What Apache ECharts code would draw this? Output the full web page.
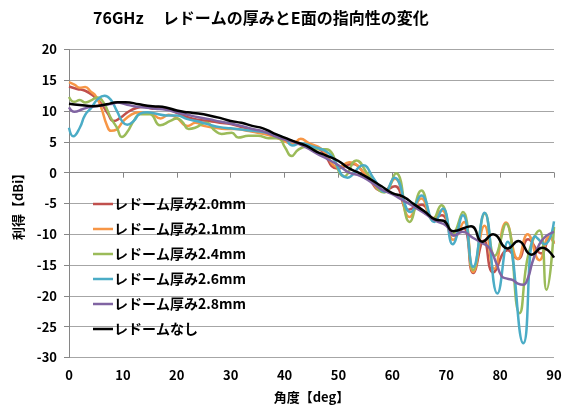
<!DOCTYPE html>
<html>
<head>
<meta charset="utf-8">
<script src="https://cdn.jsdelivr.net/npm/echarts@6/dist/echarts.min.js"></script>
<style>
html,body{margin:0;padding:0;background:#fff;}
#chart{width:573px;height:412px;}
</style>
</head>
<body>
<div id="chart"></div>
<script>
var titleText = '76GHz\u3000\u2009\u30EC\u30C9\u30FC\u30E0\u306E\u539A\u307F\u3068E\u9762\u306E\u6307\u5411\u6027\u306E\u5909\u5316';
var xName = '角度【deg】';
var yName = '利得【dBi】';
var seriesNames = ['レドーム厚み2.0mm','レドーム厚み2.1mm','レドーム厚み2.4mm','レドーム厚み2.6mm','レドーム厚み2.8mm','レドームなし'];
var seriesColors = ['#C0504D','#F79646','#9BBB59','#4BACC6','#8064A2','#000000'];
var xTicks = [0,10,20,30,40,50,60,70,80,90];
var yTicks = [-30,-25,-20,-15,-10,-5,0,5,10,15,20];

// [angle(deg), gain(dBi)]
var t20 = [[0,14.0],[1.5,13.6],[3,13.3],[4.5,12.5],[6,11.2],[7.2,9.6],[8.3,8.4],[9.5,8.9],[11,9.9],[12.5,10.5],[14,10.7],[15.5,10.4],[17,10.5],[18.5,10.3],[20,9.7],[22,9.0],[24,8.6],[26,8.4],[28,8.1],[30,7.9],[32,7.4],[34,7.0],[36,6.6],[38,6.0],[40,5.4],[42,5.0],[43.5,4.6],[45,4.2],[46.8,3.6],[49.8,0.7],[52.6,1.4],[55,-0.3],[58.3,-3.0],[60.5,-2.2],[63,-6.0],[65.5,-5.2],[67.6,-7.4],[69.2,-6.9],[71.4,-10.2],[73.2,-9.0],[75,-16.3],[77,-11.0],[78.7,-16.2],[81.4,-12.6],[83.3,-14.0],[85.2,-10.8],[87.6,-13.1],[89.3,-10.4],[90,-11.5]];
var t21 = [[0,14.7],[1,14.3],[2,13.8],[3,13.9],[4,13.2],[5,12.4],[6,10.5],[7,7.8],[7.8,6.8],[8.8,7.0],[10,8.3],[11.5,9.4],[13,9.8],[15,9.7],[17,8.8],[18.5,9.4],[20,8.9],[22,7.6],[23.5,8.1],[25,7.6],[27,7.3],[29,7.1],[31,7.1],[33,6.8],[35,6.5],[37,6.1],[39,5.5],[41.5,4.7],[43,5.5],[44.5,4.8],[46.8,3.9],[50.1,0.9],[52,1.7],[55,-0.2],[58.4,-3.0],[60.5,-1.0],[63.2,-7.2],[65.4,-4.2],[67.5,-7.4],[69.2,-6.1],[71.3,-10.9],[73.3,-8.0],[75,-16.1],[77.1,-8.6],[78.9,-15.6],[81.1,-8.1],[83.3,-14.0],[85.1,-10.0],[87.3,-14.2],[89.1,-10.4],[90,-11.5]];
var t24 = [[0,12.3],[1,11.5],[2,11.8],[3,11.4],[4,11.7],[5.2,12.2],[6.4,11.4],[7.7,9.0],[8.9,7.3],[9.8,5.8],[10.8,6.6],[12,8.4],[13.2,9.5],[15,9.5],[16.9,7.7],[18.8,8.4],[20,8.8],[21,8.3],[22.2,7.1],[23.4,7.3],[25.5,8.1],[27.1,6.8],[28.3,6.3],[30.2,6.5],[31.4,5.7],[33.3,6.0],[35.1,6.0],[37,5.6],[38.8,5.6],[40.1,4.1],[41.3,2.7],[42.5,3.7],[44,4.2],[45.5,3.8],[47.7,3.8],[51.1,-0.6],[53.3,2.0],[55.5,-0.3],[58.5,-3.2],[60.7,-0.1],[63.2,-8.0],[65.4,-2.9],[67.5,-7.7],[69.1,-5.3],[71.2,-9.9],[73.1,-6.4],[75,-15.8],[77.2,-6.6],[79,-13.5],[81.1,-8.3],[83.6,-22.8],[85.3,-13.0],[87.3,-9.4],[88.6,-19.0],[90,-8.8]];
var t26 = [[0,7.3],[0.8,5.9],[2,7.3],[3,9.4],[4.2,10.6],[5.3,11.9],[6.6,12.5],[7.7,11.9],[8.9,10.0],[10,8.2],[10.8,7.8],[12,8.4],[13.2,9.6],[14.5,9.8],[16,9.6],[18,9.3],[20,9.3],[22,8.7],[24,8.3],[26,7.8],[28,7.4],[30,7.2],[32,7.0],[34,6.8],[36,6.6],[38,6.2],[40,5.6],[41.5,4.4],[43,4.8],[45,4.3],[48.3,3.1],[51.7,-0.8],[54.6,1.2],[56.5,-0.9],[58.6,-3.1],[60.4,-0.8],[63.4,-6.4],[65.4,-3.7],[67.8,-8.0],[69.4,-5.8],[71.2,-11.6],[73.1,-6.9],[75,-15.3],[77.1,-6.5],[79.5,-19.6],[81.4,-11.2],[84.3,-27.7],[86.5,-10.3],[88.3,-11.6],[90,-7.9]];
var t28 = [[0,10.6],[1,9.9],[2.5,10.3],[4,10.7],[6,10.9],[8,11.2],[9,11.4],[10.5,11.1],[12,10.8],[14,10.6],[16,10.4],[18,10.2],[20,9.8],[22,9.4],[24,9.0],[26,8.7],[28,8.3],[30,8.0],[32,7.6],[34,7.1],[36,6.7],[38,6.0],[40,5.4],[42,4.9],[44,4.1],[46,3.1],[48,2.2],[50,1.2],[52,0.0],[54,-0.5],[56,-1.5],[58,-2.7],[60,-3.5],[62,-4.5],[64,-5.5],[66,-6.6],[68,-7.8],[70,-8.6],[71.5,-10.2],[73,-9.6],[75,-10.6],[76.8,-11.5],[78,-12.2],[79.3,-14.7],[80.3,-16.8],[81.3,-17.2],[82.3,-17.4],[83.3,-18.0],[84.3,-18.2],[85.2,-17.0],[86,-14.5],[87.3,-11.6],[88.5,-10.3],[90,-9.6]];
var tNone = [[0,11.2],[2,11.0],[4.5,10.8],[7,11.1],[9,11.45],[10.5,11.45],[13,11.1],[15.5,10.8],[18,10.6],[20,10.1],[22,9.8],[24,9.6],[26,9.3],[28,8.9],[30,8.4],[32,8.1],[34,7.6],[36,7.2],[38,6.4],[40,5.7],[42,5.0],[44,4.4],[46,3.4],[48,2.7],[50,1.9],[52,0.7],[54,-0.1],[56,-1.1],[58,-2.2],[60,-3.3],[62,-3.9],[64,-5.1],[66,-6.3],[68,-7.6],[69.5,-7.8],[71.3,-9.5],[74.6,-8.7],[76.7,-11.2],[78.7,-10.0],[81.4,-12.3],[83.4,-11.1],[85.8,-13.3],[87.8,-12.2],[90,-13.8]];
var allData = [t20, t21, t24, t26, t28, tNone];

var FONT = '"Noto Sans CJK JP", "Noto Sans", sans-serif';
var chart = echarts.init(document.getElementById('chart'), null, {renderer: 'canvas'});
var series = seriesNames.map(function (n, i) {
  return {
    name: n, type: 'line', data: allData[i], smooth: 0.5, symbol: 'none', showSymbol: false,
    lineStyle: {color: seriesColors[i], width: 2.5}, itemStyle: {color: seriesColors[i]},
    z: 2 + i, animation: false
  };
});
chart.setOption({
  animation: false,
  backgroundColor: '#ffffff',
  title: {
    text: titleText, left: 93, top: 10, padding: 0,
    textStyle: {fontFamily: FONT, fontSize: 16, fontWeight: 'bold', color: '#000'}
  },
  legend: {
    orient: 'vertical', left: 93, top: 197, itemWidth: 20, itemHeight: 2.5, itemGap: 11, padding: 0,
    icon: 'rect',
    data: seriesNames,
    textStyle: {fontFamily: FONT, fontSize: 14, fontWeight: 'bold', color: '#000', lineHeight: 14, padding: [0,0,0,-4]}
  },
  grid: {left: 69, right: 19, top: 49.5, bottom: 54.5, containLabel: false},
  xAxis: {
    type: 'value', min: 0, max: 90, interval: 10,
    name: xName, nameLocation: 'middle', nameGap: 33,
    nameTextStyle: {fontFamily: FONT, fontSize: 13, fontWeight: 'bold', color: '#000'},
    axisLine: {show: true, lineStyle: {color: '#868686', width: 1}},
    axisTick: {show: true, length: 5, lineStyle: {color: '#868686'}},
    axisLabel: {fontFamily: FONT, fontSize: 13, fontWeight: 'bold', color: '#000', margin: 11},
    splitLine: {show: false}
  },
  yAxis: {
    type: 'value', min: -30, max: 20, interval: 5,
    name: yName, nameLocation: 'middle', nameGap: 44, nameRotate: 90,
    nameTextStyle: {fontFamily: FONT, fontSize: 13, fontWeight: 'bold', color: '#000'},
    axisLine: {show: true, lineStyle: {color: '#868686', width: 1}},
    axisTick: {show: true, length: 5, lineStyle: {color: '#868686'}},
    axisLabel: {fontFamily: FONT, fontSize: 13, fontWeight: 'bold', color: '#000', margin: 12},
    splitLine: {show: true, lineStyle: {color: '#A6A6A6', width: 1}}
  },
  series: series
});
</script>
</body>
</html>
